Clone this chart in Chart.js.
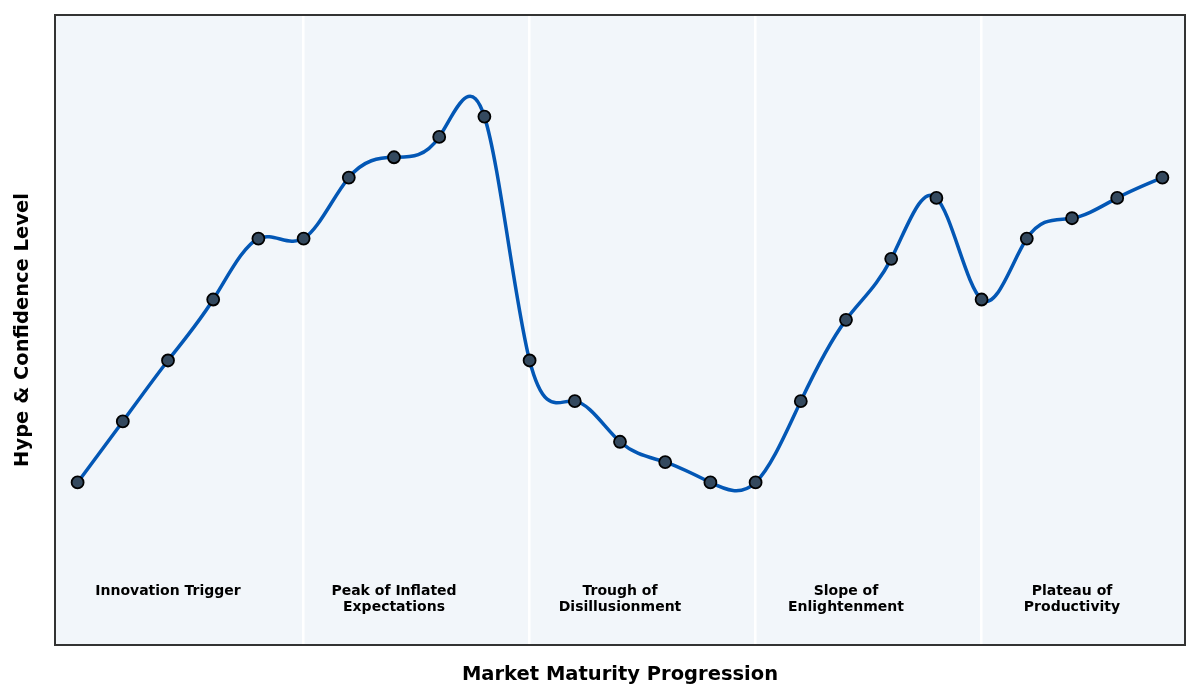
<!DOCTYPE html>
<html>
<head>
<meta charset="utf-8">
<title>Hype Cycle</title>
<script src="https://cdn.jsdelivr.net/npm/chart.js@4.4.1/dist/chart.umd.min.js"></script>
<style>
  html, body { margin: 0; padding: 0; background: #ffffff; }
  #wrap { width: 1200px; height: 700px; }
</style>
</head>
<body>
<div id="wrap"><canvas id="hypeChart"></canvas></div>
<script>
// datos del gráfico
const steps = [0, 1, 2, 3, 4, 5, 6, 7, 8, 9, 10, 11, 12, 13, 14, 15, 16, 17, 18, 19, 20, 21, 22, 23, 24];
const hypeLevel = [20, 35, 50, 65, 80, 80, 95, 100, 105, 110, 50, 40, 30, 25, 20, 20, 40, 60, 75, 90, 65, 80, 85, 90, 95];
const phaseBounds = [5, 10, 15, 20];
const phaseCenters = [2, 7, 12, 17, 22];
const phaseNames = [
    ['Innovation Trigger'],
    ['Peak of Inflated', 'Expectations'],
    ['Trough of', 'Disillusionment'],
    ['Slope of', 'Enlightenment'],
    ['Plateau of', 'Productivity']
];
const labelLevel = -5;

const FONT = "'DejaVu Sans', sans-serif";

// Fondo y marco del área de trazado
const plotFrame = {
    id: 'plotFrame',
    beforeDraw(chart) {
        const { ctx, chartArea: a } = chart;
        ctx.save();
        ctx.fillStyle = '#f2f6fa';
        ctx.fillRect(a.left, a.top, a.right - a.left, a.bottom - a.top);
        ctx.restore();
    },
    afterDraw(chart) {
        const { ctx, chartArea: a } = chart;
        ctx.save();
        ctx.strokeStyle = '#333333';
        ctx.lineWidth = 2;
        ctx.strokeRect(a.left, a.top, a.right - a.left, a.bottom - a.top);
        ctx.restore();
    }
};

// Curva spline cúbica natural por los puntos (puntos de control bezier)
const smoothSpline = {
    id: 'smoothSpline',
    beforeDatasetDraw(chart, args) {
        const pts = args.meta.data;
        const n = pts.length;
        if (n < 3) return;
        const h = pts[1].x - pts[0].x;
        // segundas derivadas (sistema tridiagonal)
        const M = new Array(n).fill(0);
        const c = new Array(n).fill(0);
        const d = new Array(n).fill(0);
        for (let i = 1; i < n - 1; i++) {
            const rhs = 6 * (pts[i + 1].y - 2 * pts[i].y + pts[i - 1].y) / (h * h);
            const m = 4 - (i > 1 ? c[i - 1] : 0);
            c[i] = 1 / m;
            d[i] = (rhs - (i > 1 ? d[i - 1] : 0)) / m;
        }
        for (let i = n - 2; i >= 1; i--) {
            M[i] = d[i] - c[i] * M[i + 1];
        }
        for (let i = 0; i < n; i++) {
            let slope;
            if (i < n - 1) {
                slope = (pts[i + 1].y - pts[i].y) / h - h * (2 * M[i] + M[i + 1]) / 6;
            } else {
                slope = (pts[i].y - pts[i - 1].y) / h + h * (M[i - 1] + 2 * M[i]) / 6;
            }
            const p = pts[i];
            p.cp1x = p.x - h / 3;
            p.cp1y = p.y - slope * h / 3;
            p.cp2x = p.x + h / 3;
            p.cp2y = p.y + slope * h / 3;
        }
        args.meta.dataset._pointsUpdated = true;
    }
};

// Etiquetas de las fases
const phaseLabels = {
    id: 'phaseLabels',
    afterDatasetsDraw(chart) {
        const { ctx, scales: { x, y } } = chart;
        ctx.save();
        ctx.fillStyle = '#000000';
        ctx.font = 'bold 14px ' + FONT;
        ctx.textAlign = 'center';
        ctx.textBaseline = 'top';
        phaseCenters.forEach((pos, i) => {
            const px = x.getPixelForValue(pos);
            const py = y.getPixelForValue(labelLevel);
            phaseNames[i].forEach((line, j) => {
                ctx.fillText(line, px, py + j * 16);
            });
        });
        ctx.restore();
    }
};

const ctx = document.getElementById('hypeChart').getContext('2d');

const hypeChart = new Chart(ctx, {
    type: 'line',
    data: {
        labels: steps,
        datasets: [{
            label: 'Hype',
            data: steps.map((s, i) => ({ x: s, y: hypeLevel[i] })),
            borderColor: '#0357b5',
            borderWidth: 3.5,
            tension: 0.4,
            fill: false,
            pointRadius: 6,
            pointBackgroundColor: '#34495e',
            pointBorderColor: '#000000',
            pointBorderWidth: 1.8
        }]
    },
    options: {
        responsive: true,
        maintainAspectRatio: false,
        animation: false,
        layout: { padding: { top: 15, right: 15, left: 0, bottom: 0 } },
        plugins: {
            legend: { display: false },
            tooltip: { enabled: false }
        },
        scales: {
            x: {
                type: 'linear',
                min: -0.5,
                max: 24.5,
                afterBuildTicks(scale) {
                    scale.ticks = phaseBounds.map(v => ({ value: v }));
                },
                afterFit(scale) { scale.height = 55; },
                ticks: { display: false },
                grid: { color: '#ffffff', lineWidth: 2.5, drawTicks: false },
                border: { display: false },
                title: {
                    display: true,
                    text: 'Market Maturity Progression',
                    color: '#000000',
                    font: { family: FONT, size: 19.5, weight: 'bold' },
                    padding: { top: 0, bottom: 13 }
                }
            },
            y: {
                min: -20,
                max: 135,
                afterFit(scale) { scale.width = 55; },
                ticks: { display: false },
                grid: { display: false, drawTicks: false },
                border: { display: false },
                title: {
                    display: true,
                    text: 'Hype & Confidence Level',
                    color: '#000000',
                    font: { family: FONT, size: 19.5, weight: 'bold' },
                    padding: { top: 11, bottom: 0 }
                }
            }
        }
    },
    plugins: [plotFrame, smoothSpline, phaseLabels]
});
</script>
</body>
</html>
